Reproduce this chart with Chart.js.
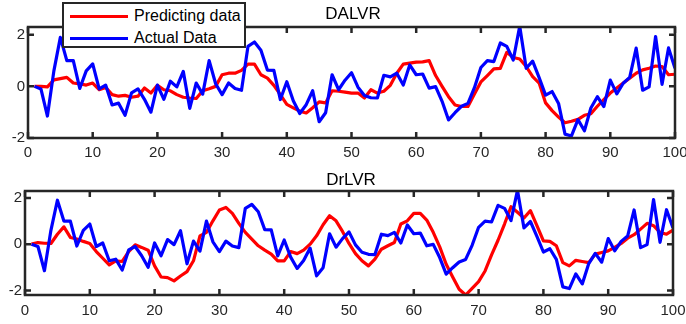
<!DOCTYPE html>
<html>
<head>
<meta charset="utf-8">
<script src="https://cdn.jsdelivr.net/npm/chart.js@4.4.1/dist/chart.umd.min.js"></script>
<style>
  html, body { margin: 0; padding: 0; background: #fff; width: 686px; height: 324px; overflow: hidden; }
  canvas { position: absolute; left: 0; }
  #c1 { top: 0; }
  #c2 { top: 165px; }
  .title { position: absolute; font-family: "Liberation Sans", Arial, sans-serif; font-size: 17px; color: #000;
           transform: translateX(-50%); white-space: nowrap; line-height: 1; }
  #legend { position: absolute; left: 62px; top: 2px; width: 180px; height: 42px; border: 2.5px solid #262626;
            background: #fff; z-index: 5; font-family: "Liberation Sans", Arial, sans-serif; font-size: 16px; color: #000; }
  .lrow { position: absolute; left: 0; height: 20px; line-height: 20px; white-space: nowrap; }
  .lline { position: absolute; left: 6px; top: 8.5px; width: 58px; height: 3px; }
  .ltext { position: absolute; left: 70px; top: 0; }
</style>
</head>
<body>
<canvas id="c1" width="686" height="165"></canvas>
<canvas id="c2" width="686" height="159"></canvas>
<div class="title" style="left:353px; top:5px;">DALVR</div>
<div class="title" style="left:351px; top:171px;">DrLVR</div>
<div id="legend">
  <div class="lrow" style="top:2px;"><div class="lline" style="background:#ff0000"></div><span class="ltext">Predicting data</span></div>
  <div class="lrow" style="top:24px;"><div class="lline" style="background:#0000ff"></div><span class="ltext">Actual Data</span></div>
</div>
<script>
// ---- data ----
const SAMPLES = [1,2,3,4,5,6,7,8,9,10,11,12,13,14,15,16,17,18,19,20,
  21,22,23,24,25,26,27,28,29,30,31,32,33,34,35,36,37,38,39,40,
  41,42,43,44,45,46,47,48,49,50,51,52,53,54,55,56,57,58,59,60,
  61,62,63,64,65,66,67,68,69,70,71,72,73,74,75,76,77,78,79,80,
  81,82,83,84,85,86,87,88,89,90,91,92,93,94,95,96,97,98,99,100];

const actualData = [0.0,-0.1,-1.15,0.6,1.9,1.0,1.0,-0.08,0.6,0.87,
  -0.1,0.05,-0.72,-0.65,-1.12,-0.25,-0.1,-0.5,-1.0,0.05,
  -0.5,0.2,-0.02,0.58,-0.85,0.13,-0.3,1.0,0.1,-0.32,
  0.13,-0.08,-0.15,1.55,1.72,1.4,0.63,0.62,-0.51,0.18,
  -0.56,-1.05,-0.71,-0.17,-1.37,-1.02,0.45,-0.13,0.24,0.53,
  -0.03,-0.35,-0.44,-0.45,0.43,0.37,0.51,0.05,0.83,0.45,
  0.48,-0.07,-0.01,-0.58,-1.3,-1.02,-0.77,-0.66,-0.05,0.73,
  1.0,0.96,1.68,1.55,1.02,2.33,0.7,0.98,0.34,-0.34,
  -0.2,-0.66,-1.85,-1.92,-1.29,-1.72,-0.84,-0.4,-0.78,0.24,
  -0.29,0.12,0.35,1.48,-0.15,-0.02,1.93,0.08,1.49,0.7];

const predDALVR = [0.0,0.0,-0.02,0.25,0.3,0.35,0.13,0.1,0.05,0.13,
  -0.13,-0.04,-0.32,-0.38,-0.35,-0.42,-0.38,-0.06,-0.26,0.04,
  -0.13,-0.17,-0.32,-0.42,-0.45,-0.47,-0.17,-0.09,0.0,0.45,
  0.51,0.51,0.62,0.86,0.86,0.45,0.32,0.04,-0.32,-0.7,
  -0.83,-0.96,-1.03,-0.83,-0.6,-0.64,-0.17,-0.19,-0.22,-0.26,
  -0.26,-0.45,-0.13,-0.26,-0.19,0.04,0.51,0.86,0.9,0.94,
  0.95,1.0,0.42,0.0,-0.4,-0.72,-0.78,-0.78,-0.3,0.17,
  0.42,0.68,0.7,1.32,1.12,1.06,0.77,0.38,0.13,-0.64,
  -0.94,-1.19,-1.41,-1.35,-1.28,-1.12,-1.06,-0.77,-0.51,-0.26,
  -0.06,0.13,0.32,0.51,0.64,0.7,0.79,0.77,0.45,0.47];

const predDrLVR = [0.0,0.07,0.04,0.03,0.43,0.75,0.29,0.22,0.12,0.03,
  -0.32,-0.61,-0.9,-0.72,-0.75,-0.32,-0.03,-0.14,-0.26,-0.94,
  -1.42,-1.45,-1.59,-1.38,-1.19,-0.72,0.36,0.51,1.01,1.48,
  1.59,1.33,0.9,0.51,0.22,-0.07,-0.26,-0.43,-0.72,-0.72,
  -0.32,-0.41,-0.26,0.0,0.36,0.84,1.23,1.01,0.55,0.03,
  -0.41,-0.72,-0.94,-0.65,-0.22,-0.07,0.07,0.87,1.01,1.33,
  1.33,1.04,0.51,-0.12,-0.87,-1.42,-1.95,-2.2,-1.91,-1.62,
  -1.16,-0.46,0.17,0.87,1.62,1.38,1.13,1.45,0.8,0.14,
  0.12,-0.07,-0.8,-0.94,-0.7,-0.75,-0.8,-0.43,-0.36,-0.29,
  -0.14,0.03,0.26,0.41,0.65,0.9,0.8,0.51,0.43,0.61];

const X_TICKS = [0,10,20,30,40,50,60,70,80,90,100];
const Y_TICKS = [-2,0,2];
const SERIES_NAMES = ['Predicting data','Actual Data'];

// ---- drawing ----
const AXIS_COLOR = '#262626';
const FONT = { family: '"Liberation Sans", Arial, sans-serif', size: 15 };

const framePlugin = {
  id: 'matlabFrame',
  afterDatasetsDraw(chart) {
    const { ctx, chartArea: a, scales: { x, y } } = chart;
    const tl = 6;
    ctx.save();
    ctx.strokeStyle = AXIS_COLOR;
    ctx.lineWidth = 2.5;
    ctx.beginPath();
    x.ticks.forEach(t => {
      const px = x.getPixelForValue(t.value);
      ctx.moveTo(px, a.bottom); ctx.lineTo(px, a.bottom - tl);
      ctx.moveTo(px, a.top); ctx.lineTo(px, a.top + tl);
    });
    y.ticks.forEach(t => {
      const py = y.getPixelForValue(t.value);
      ctx.moveTo(a.left, py); ctx.lineTo(a.left + tl, py);
      ctx.moveTo(a.right, py); ctx.lineTo(a.right - tl, py);
    });
    ctx.stroke();
    ctx.strokeRect(a.left, a.top, a.right - a.left, a.bottom - a.top);
    ctx.restore();
  }
};

function pts(ys) { return SAMPLES.map((s, i) => ({ x: s, y: ys[i] })); }

function makeChart(id, pred, cfg) {
  return new Chart(document.getElementById(id), {
    type: 'line',
    data: {
      datasets: [
        { label: SERIES_NAMES[0], data: pts(pred), borderColor: '#ff0000', borderWidth: 3.2, order: 1 },
        { label: SERIES_NAMES[1], data: pts(actualData), borderColor: '#0000ff', borderWidth: 3.2, order: 0 }
      ]
    },
    options: {
      responsive: false,
      animation: false,
      devicePixelRatio: 1,
      layout: { padding: cfg.padding },
      elements: { point: { radius: 0 }, line: { tension: 0, fill: false, borderJoinStyle: 'round' } },
      plugins: { legend: { display: false }, tooltip: { enabled: false } },
      scales: {
        x: {
          type: 'linear', min: 0, max: 100,
          afterBuildTicks: s => { s.ticks = X_TICKS.map(v => ({ value: v })); },
          afterFit: s => { s.height = cfg.xh; s.paddingLeft = 0; s.paddingRight = 0; },
          grid: { display: false, drawTicks: false },
          border: { display: false },
          ticks: { padding: cfg.xpad, font: FONT, color: AXIS_COLOR, maxRotation: 0, autoSkip: false }
        },
        y: {
          type: 'linear', min: cfg.ymin, max: cfg.ymax,
          afterBuildTicks: s => { s.ticks = Y_TICKS.map(v => ({ value: v })); },
          afterFit: s => { s.width = cfg.yw; s.paddingTop = 0; s.paddingBottom = 0; },
          grid: { display: false, drawTicks: false },
          border: { display: false },
          ticks: { padding: 3, font: FONT, color: AXIS_COLOR }
        }
      }
    },
    plugins: [framePlugin]
  });
}

makeChart('c1', predDALVR, { padding: { left: 0, right: 11, top: 27, bottom: 0 }, xh: 27, yw: 28, xpad: 6, ymin: -2, ymax: 2.3 });
makeChart('c2', predDrLVR, { padding: { left: 0, right: 13, top: 26, bottom: 0 }, xh: 29, yw: 25, xpad: 7, ymin: -2.2, ymax: 2.3 });
</script>
</body>
</html>
